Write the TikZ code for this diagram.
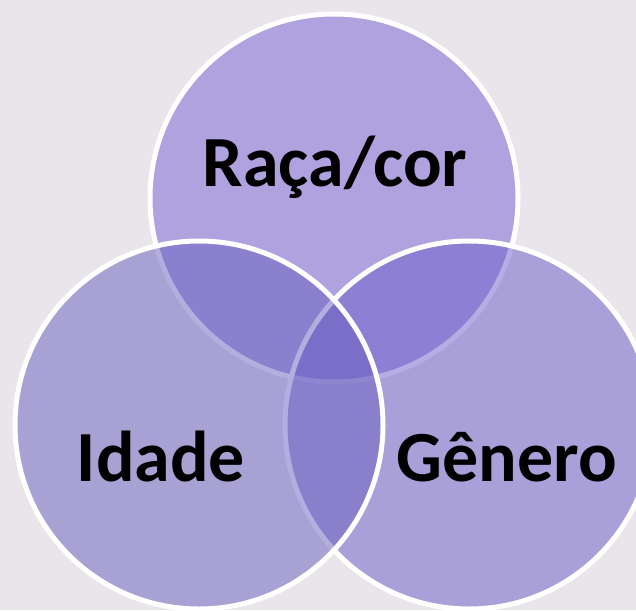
\documentclass[tikz,border=0pt]{standalone}
\usepackage{fontspec}
\setmainfont{Carlito}
\definecolor{bgc}{RGB}{233,229,234}
\definecolor{ctop}{RGB}{119,97,214}
\definecolor{cleft}{RGB}{105,95,190}
\definecolor{cright}{RGB}{109,93,202}
\tikzset{
  vcircle/.style={circle, draw=white, line width=5pt, minimum size=368pt, inner sep=0pt, fill opacity=0.5, draw opacity=1},
  vlabel/.style={anchor=base, font=\bfseries\fontsize{72}{86}\selectfont, text=black}
}
\begin{document}
\begin{tikzpicture}[x=1pt,y=-1pt]
\useasboundingbox (0,0) rectangle (636,610);
\clip (0,0) rectangle (636,610);
\fill[bgc] (0,0) rectangle (636,610);
\node[vcircle, fill=ctop] (top) at (334,198) {};
\node[vcircle, fill=cright] (right) at (469,425) {};
\node[vcircle, fill=cleft] (left) at (199,425) {};
\node[vlabel] (traca) at (335,186) {Raça/cor};
\node[vlabel] (tidade) at (161,481) {Idade};
\node[vlabel] (tgenero) at (507,481) {Gênero};
\end{tikzpicture}
\end{document}
